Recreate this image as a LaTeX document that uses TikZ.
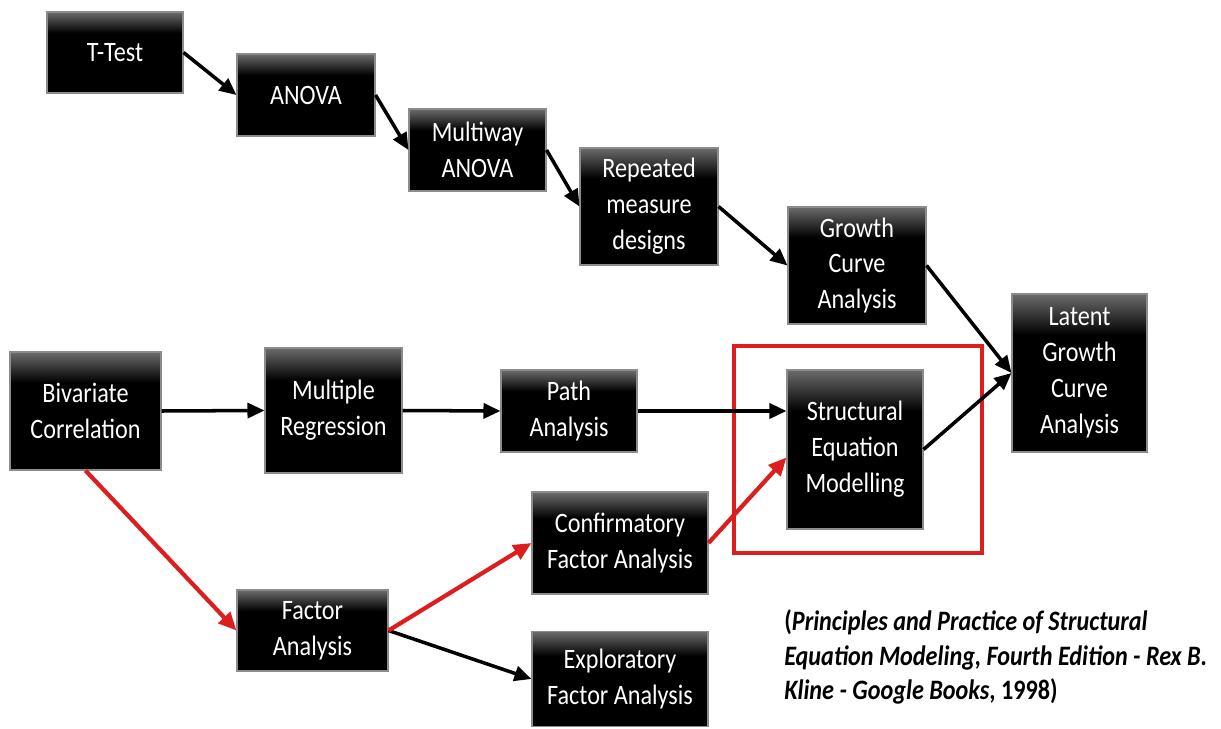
\documentclass[tikz,border=0pt]{standalone}
\usepackage{fontspec}
\setmainfont{Carlito}[FakeStretch=0.86]
\usetikzlibrary{arrows.meta,positioning}
\definecolor{semred}{RGB}{220,30,30}
\pgfdeclareverticalshading{boxshade}{100bp}{color(0bp)=(black); color(25bp)=(black); color(62bp)=(black); color(75bp)=(black!58); color(100bp)=(black!58)}

\begin{document}
\begin{tikzpicture}[
            box/.style={draw=black!45, line width=0.6pt, shading=boxshade, text=white, align=center, inner sep=2pt, font=\fontsize{16}{20.4}\selectfont},
            frame/.style={draw=semred, line width=2.8pt, minimum width=4.96cm, minimum height=4.14cm},
            arrow/.style={-{Triangle[length=3.4mm, width=3mm]}, line width=2pt},
            redarrow/.style={-{Triangle[length=3.6mm, width=3.2mm]}, line width=2.4pt, draw=semred, color=semred}
        ]
        \useasboundingbox (0,0) rectangle (24.42,-14.58);

        % ANOVA family (top row)
        \node[box, minimum width=2.72cm, minimum height=1.62cm] (ttest) at (2.30,-1.05) {T-Test};
        \node[box, minimum width=2.76cm, minimum height=1.64cm] (anova) at (6.12,-1.90) {ANOVA};
        \node[box, minimum width=2.74cm, minimum height=1.64cm] (multiway) at (9.55,-3.00) {Multiway\\ANOVA};
        \node[box, minimum width=2.76cm, minimum height=2.34cm] (repeated) at (12.98,-4.13) {Repeated\\measure\\designs};
        \node[box, minimum width=2.76cm, minimum height=2.34cm] (growth) at (17.14,-5.31) {Growth\\Curve\\Analysis};
        \node[box, minimum width=2.70cm, minimum height=3.16cm] (latent) at (21.59,-7.46) {Latent\\Growth\\Curve\\Analysis};

        % Regression family (middle row)
        \node[box, minimum width=3.02cm, minimum height=2.36cm] (bivar) at (1.71,-8.22) {Bivariate\\Correlation};
        \node[box, minimum width=2.74cm, minimum height=2.50cm] (multreg) at (6.67,-8.21) {Multiple\\Regression};
        \node[box, minimum width=2.72cm, minimum height=1.64cm] (path) at (11.38,-8.22) {Path\\Analysis};
        \node[box, minimum width=2.72cm, minimum height=3.18cm] (sem) at (17.10,-8.99) {Structural\\Equation\\Modelling};
        \node[frame] (semframe) at (17.16,-8.99) {};

        % Factor analysis family (bottom)
        \node[box, minimum width=3.02cm, minimum height=1.62cm] (factor) at (6.25,-12.61) {Factor\\Analysis};
        \node[box, minimum width=3.52cm, minimum height=2.04cm] (cfa) at (12.40,-10.86) {Confirmatory\\Factor Analysis};
        \node[box, minimum width=3.52cm, minimum height=1.90cm] (efa) at (12.40,-13.58) {Exploratory\\Factor Analysis};

        % Reference
        \node[anchor=north west, inner sep=0pt, align=left, font=\fontsize{16}{19.8}\selectfont\bfseries] (cite) at (15.68,-12.18)
            {(\textit{Principles and Practice of Structural}\\\textit{Equation Modeling, Fourth Edition - Rex B.}\\\textit{Kline - Google Books}, 1998)};

        % Black arrows
        \draw[arrow] (ttest.east) -- (anova.west);
        \draw[arrow] (anova.east) -- (multiway.west);
        \draw[arrow] (multiway.east) -- (repeated.west);
        \draw[arrow] (repeated.east) -- (growth.west);
        \draw[arrow] (growth.east) -- (latent.west);
        \draw[arrow] (bivar.east) -- (multreg.west);
        \draw[arrow] (multreg.east) -- (path.west);
        \draw[arrow] (path.east) -- (path.east -| sem.west);
        \draw[arrow] (sem.east) -- (latent.west);
        \draw[arrow] (factor.east) -- (efa.west);

        % Red arrows
        \draw[redarrow] (bivar.south) -- (factor.west);
        \draw[redarrow] (factor.east) -- (cfa.west);
        \draw[redarrow] (cfa.east) -- ([yshift=-0.16cm]sem.west);
    \end{tikzpicture}
\end{document}
